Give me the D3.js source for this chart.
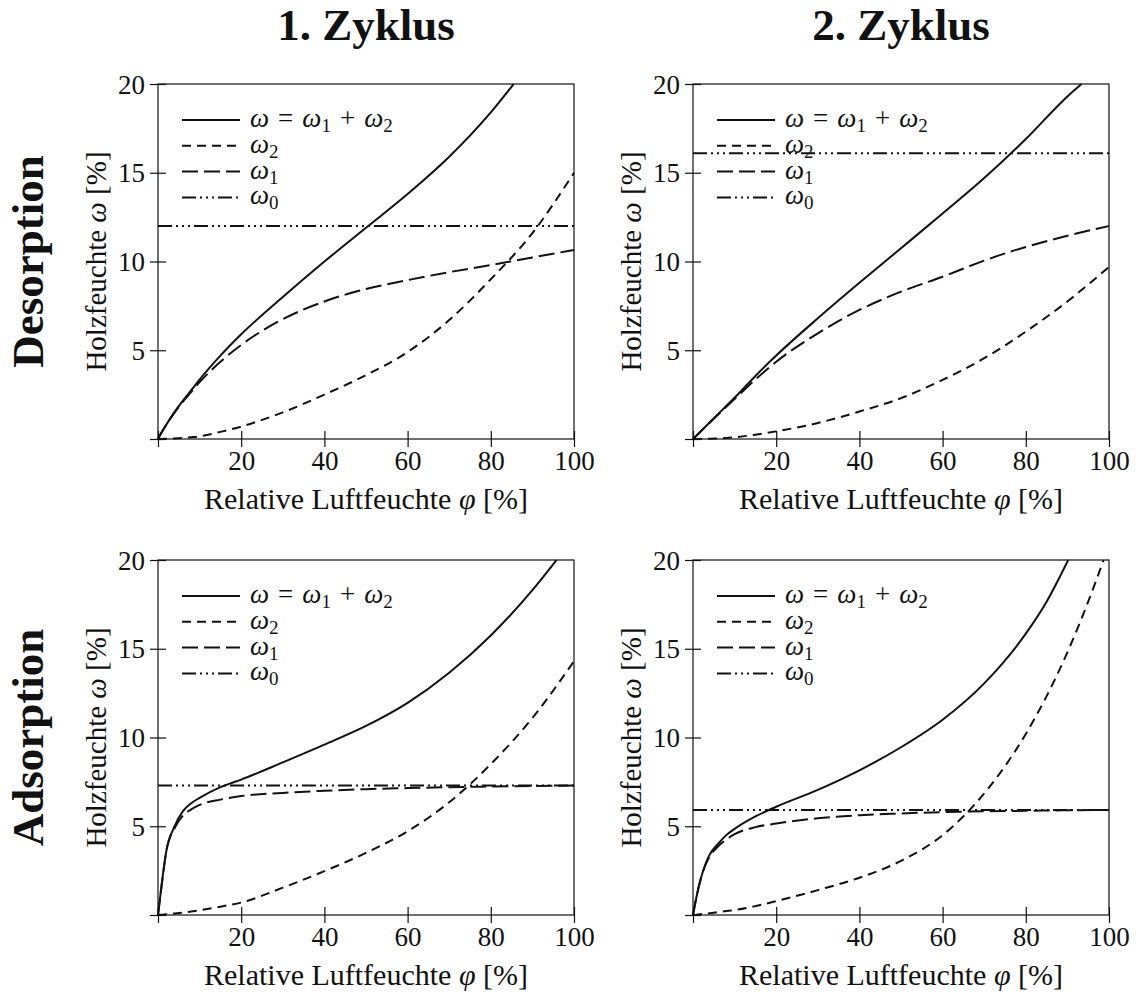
<!DOCTYPE html>
<html lang="de">
<head>
<meta charset="UTF-8" />
<title>Holzfeuchte – Sorptionsisothermen</title>
<script src="https://cdn.jsdelivr.net/npm/d3@7"></script>
<style>
    body {
        margin: 0;
        background: #fff;
    }
    svg text {
        font-family: "Liberation Serif", "DejaVu Serif", serif;
        fill: #111;
        white-space: pre;
    }
</style>
</head>
<body>
<svg id="chart" width="1136" height="995"></svg>
<script>
    // relative Luftfeuchte, gemeinsames Raster für omega1 / omega2
    const phi = [0, 1, 2, 4, 6, 8, 10, 15, 20, 30, 40, 50, 60, 70, 80, 90, 100];

    // Desorption, 1. Zyklus
    const des1W1 = [0, 0.42, 0.8, 1.5, 2.1, 2.65, 3.2, 4.35, 5.3, 6.75, 7.75, 8.45, 8.95, 9.4, 9.8, 10.23, 10.65];
    const des1W2 = [0, 0.005, 0.01, 0.03, 0.06, 0.1, 0.15, 0.4, 0.7, 1.5, 2.5, 3.6, 4.9, 6.7, 9.0, 11.6, 15.0];
    const des1PhiW = [0, 1, 2, 4, 6, 8, 10, 15, 20, 30, 40, 50, 60, 70, 80, 85.5];
    const des1W = [0, 0.43, 0.81, 1.53, 2.16, 2.75, 3.35, 4.7, 5.9, 8.0, 10.0, 11.9, 13.8, 15.9, 18.4, 20.0];
    const des1W0 = 12.0;

    // Desorption, 2. Zyklus
    const des2W1 = [0, 0.23, 0.46, 0.92, 1.37, 1.82, 2.25, 3.35, 4.35, 5.95, 7.27, 8.3, 9.14, 10.05, 10.82, 11.45, 12.0];
    const des2W2 = [0, 0.001, 0.004, 0.015, 0.035, 0.06, 0.1, 0.24, 0.43, 0.9, 1.55, 2.3, 3.33, 4.55, 6.05, 7.75, 9.7];
    const des2PhiW = [0, 1, 2, 4, 6, 8, 10, 15, 20, 30, 40, 50, 60, 70, 80, 90, 93.4];
    const des2W = [0, 0.23, 0.46, 0.93, 1.4, 1.86, 2.32, 3.55, 4.7, 6.8, 8.8, 10.75, 12.7, 14.7, 16.9, 19.3, 20.0];
    const des2W0 = 16.1;

    // Adsorption, 1. Zyklus
    const ads1W1 = [0, 1.9, 3.6, 4.9, 5.6, 5.95, 6.2, 6.5, 6.7, 6.88, 7.0, 7.09, 7.15, 7.2, 7.24, 7.27, 7.29];
    const ads1W2 = [0, 0.02, 0.04, 0.09, 0.14, 0.2, 0.27, 0.47, 0.7, 1.54, 2.47, 3.5, 4.72, 6.35, 8.5, 11.1, 14.3];
    const ads1PhiW = [0, 1, 2, 4, 6, 8, 10, 15, 20, 30, 40, 50, 60, 70, 80, 90, 95.8];
    const ads1W = [0, 1.95, 3.6, 5.0, 5.85, 6.3, 6.6, 7.2, 7.63, 8.6, 9.6, 10.65, 11.95, 13.65, 15.75, 18.3, 20.0];
    const ads1W0 = 7.3;

    // Adsorption, 2. Zyklus
    const ads2W1 = [0, 1.2, 2.15, 3.3, 3.85, 4.25, 4.55, 4.95, 5.15, 5.45, 5.62, 5.72, 5.8, 5.84, 5.87, 5.9, 5.92];
    const ads2PhiW2 = [0, 1, 2, 4, 6, 8, 10, 15, 20, 30, 40, 50, 60, 70, 80, 90, 95, 98.7];
    const ads2W2 = [0, 0.02, 0.05, 0.1, 0.16, 0.22, 0.28, 0.5, 0.78, 1.4, 2.1, 3.05, 4.5, 6.85, 10.2, 14.8, 17.65, 20.0];
    const ads2PhiW = [0, 1, 2, 4, 6, 8, 10, 15, 20, 30, 40, 50, 60, 70, 80, 85, 90.2];
    const ads2W = [0, 1.2, 2.15, 3.4, 4.0, 4.5, 4.85, 5.55, 6.1, 7.05, 8.15, 9.45, 11.0, 13.05, 15.85, 17.65, 20.0];
    const ads2W0 = 5.92;

    const colTitles = ["1. Zyklus", "2. Zyklus"];
    const rowTitles = ["Desorption", "Adsorption"];
    const xTicks = [0, 20, 40, 60, 80, 100];
    const yTicks = [0, 5, 10, 15, 20];
    const legendLabels = ["ω\u2004=\u2004ω1\u2004+\u2004ω2", "ω2", "ω1", "ω0"];
    const xLabel = "Relative Luftfeuchte φ [%]";
    const yLabel = "Holzfeuchte ω [%]";

    // Linienstile: omega, omega2, omega1, omega0
    const dashes = [null, "9,6", "16,6", "14,4,2,4,2,4,2,4"];

    const panels = [
        { row: 0, col: 0, w: [des1PhiW, des1W], w2: [phi, des1W2], w1: [phi, des1W1], w0: des1W0 },
        { row: 0, col: 1, w: [des2PhiW, des2W], w2: [phi, des2W2], w1: [phi, des2W1], w0: des2W0 },
        { row: 1, col: 0, w: [ads1PhiW, ads1W], w2: [phi, ads1W2], w1: [phi, ads1W1], w0: ads1W0 },
        { row: 1, col: 1, w: [ads2PhiW, ads2W], w2: [ads2PhiW2, ads2W2], w1: [phi, ads2W1], w0: ads2W0 }
    ];

    const colX = [158, 693];
    const rowBottom = [439, 915];
    const plotW = 416, plotH = 355;

    const svg = d3.select("#chart");

    // Text mit kursivem omega/phi und tiefgestellten Indizes
    function richText(text, str) {
        const fs = +text.attr("font-size");
        const shift = Math.round(fs * 0.2);
        let down = false;
        const add = (t, italic, sub) => {
            const ts = text.append("tspan").text(t);
            if (italic) ts.attr("font-style", "italic");
            let dy = 0;
            if (sub && !down) { dy = shift; down = true; }
            else if (!sub && down) { dy = -shift; down = false; }
            if (dy) ts.attr("dy", dy);
            if (sub) ts.attr("font-size", Math.round(fs * 0.7));
        };
        str.match(/[ωφ]\d?|[^ωφ]+/g).forEach(tok => {
            if (/^[ωφ]/.test(tok)) {
                add(tok[0], true, false);
                if (tok.length > 1) add(tok.slice(1), false, true);
            } else {
                add(tok, false, false);
            }
        });
    }

    colTitles.forEach((t, i) => {
        svg.append("text")
            .attr("x", colX[i] + plotW / 2)
            .attr("y", 40)
            .attr("text-anchor", "middle")
            .attr("font-size", 45)
            .attr("font-weight", "bold")
            .text(t);
    });

    rowTitles.forEach((t, i) => {
        svg.append("text")
            .attr("transform", `translate(43,${rowBottom[i] - plotH / 2}) rotate(-90)`)
            .attr("text-anchor", "middle")
            .attr("font-size", 45)
            .attr("font-weight", "bold")
            .text(t);
    });

    panels.forEach(p => {
        const x0 = colX[p.col];
        const yb = rowBottom[p.row];
        const x = d3.scaleLinear().domain([0, 100]).range([x0, x0 + plotW]);
        const y = d3.scaleLinear().domain([0, 20]).range([yb, yb - plotH]);
        const g = svg.append("g");

        // Achsen mit durchgehenden Ticks
        const gx = g.append("g")
            .attr("transform", `translate(0,${y(0)})`)
            .call(d3.axisBottom(x).tickValues(xTicks).tickSize(8).tickFormat(d => d === 0 ? "" : d));
        gx.attr("font-family", null).attr("font-size", null);
        gx.select(".domain").remove();
        gx.selectAll(".tick line").attr("y1", -8).attr("stroke", "#111").attr("stroke-width", 1.2);
        gx.selectAll(".tick text").attr("y", 31).attr("dy", null).attr("font-size", 27).attr("fill", null);

        const gy = g.append("g")
            .attr("transform", `translate(${x(0)},0)`)
            .call(d3.axisLeft(y).tickValues(yTicks).tickSize(8).tickFormat(d => d === 0 ? "" : d));
        gy.attr("font-family", null).attr("font-size", null);
        gy.select(".domain").remove();
        gy.selectAll(".tick line").attr("x1", 8).attr("stroke", "#111").attr("stroke-width", 1.2);
        gy.selectAll(".tick text").attr("x", -13).attr("dy", "0.34em").attr("font-size", 27).attr("fill", null);

        g.append("rect")
            .attr("x", x(0)).attr("y", y(20))
            .attr("width", x(100) - x(0)).attr("height", y(0) - y(20))
            .attr("fill", "none").attr("stroke", "#111").attr("stroke-width", 1.2);

        const xl = g.append("text")
            .attr("x", x(50)).attr("y", y(0) + 70)
            .attr("text-anchor", "middle")
            .attr("font-size", 30);
        richText(xl, xLabel);

        const yl = g.append("text")
            .attr("transform", `translate(${x0 - 52},${y(10)}) rotate(-90)`)
            .attr("text-anchor", "middle")
            .attr("font-size", 29);
        richText(yl, yLabel);

        // Kurven
        const line = d3.line()
            .x(d => x(d[0]))
            .y(d => y(d[1]))
            .curve(d3.curveMonotoneX);
        const zip = s => s[0].map((v, i) => [v, s[1][i]]);
        const series = [zip(p.w), zip(p.w2), zip(p.w1), [[0, p.w0], [100, p.w0]]];

        series.forEach((s, i) => {
            g.append("path")
                .attr("d", line(s))
                .attr("fill", "none")
                .attr("stroke", "#111")
                .attr("stroke-width", 2)
                .attr("stroke-dasharray", dashes[i]);
        });

        // Legende
        const lg = g.append("g").attr("transform", `translate(${x0},${y(20)})`);
        legendLabels.forEach((lab, i) => {
            const ly = 36 + i * 25.8;
            lg.append("line")
                .attr("x1", 24).attr("x2", 82)
                .attr("y1", ly).attr("y2", ly)
                .attr("stroke", "#111")
                .attr("stroke-width", 2)
                .attr("stroke-dasharray", dashes[i]);
            const t = lg.append("text")
                .attr("x", 92).attr("y", ly + 7)
                .attr("font-size", 27);
            richText(t, lab);
        });
    });
</script>
</body>
</html>
